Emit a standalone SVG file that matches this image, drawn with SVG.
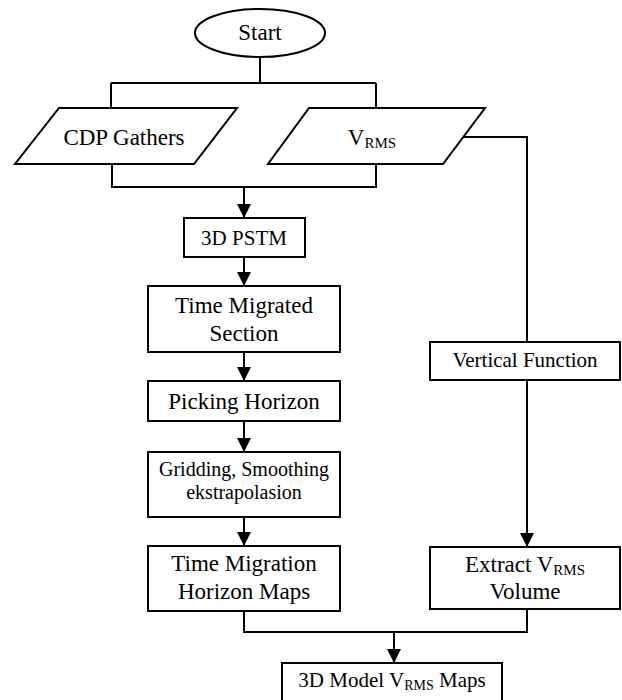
<svg xmlns="http://www.w3.org/2000/svg" width="622" height="700" viewBox="0 0 622 700">
<style>
.s{fill:#fff;stroke:#000;stroke-width:2}
.c{fill:none;stroke:#000;stroke-width:2}
text{font-family:"Liberation Serif","Times New Roman",serif;fill:#000;text-anchor:middle}
.m{font-size:23px}
.n{font-size:21px}
.g{font-size:20px}
</style>
<defs>
<marker id="arr" markerWidth="14" markerHeight="14" refX="14" refY="7" orient="auto" markerUnits="userSpaceOnUse">
<path d="M0,0 L14,7 L0,14 z" fill="#000"/>
</marker>
</defs>
<rect width="622" height="700" fill="#fff"/>
<g id="connectors">
<path class="c" d="M260,57 V83 M111,83 H376 M111,83 V108 M376,83 V108"/>
<path class="c" d="M463,137 H527 V342"/>
<path class="c" d="M112,164 V187 H376 V164"/>
<path class="c" d="M244,187 V218" marker-end="url(#arr)"/>
<path class="c" d="M244,257 V286" marker-end="url(#arr)"/>
<path class="c" d="M244,352 V381" marker-end="url(#arr)"/>
<path class="c" d="M244,421 V452" marker-end="url(#arr)"/>
<path class="c" d="M244,517 V546" marker-end="url(#arr)"/>
<path class="c" d="M527,380 V547" marker-end="url(#arr)"/>
<path class="c" d="M244,611 V632 H527 V609"/>
<path class="c" d="M394,632 V663" marker-end="url(#arr)"/>
</g>
<g id="start">
<ellipse class="s" cx="260" cy="33" rx="65" ry="24"/>
<text class="m" x="260" y="40">Start</text>
</g>
<g id="cdp">
<polygon class="s" points="59,108 237,108 194,164 15,164"/>
<text class="m" x="124" y="145">CDP Gathers</text>
</g>
<g id="vrms">
<polygon class="s" points="309,108 485,108 443,164 268,164"/>
<text class="m" x="372" y="145">V<tspan font-size="15" dy="3">RMS</tspan></text>
</g>
<g id="pstm">
<rect class="s" x="184" y="218" width="121" height="39"/>
<text class="n" x="244" y="245">3D PSTM</text>
</g>
<g id="tms">
<rect class="s" x="148" y="286" width="192" height="66"/>
<text class="m" x="244" y="313">Time Migrated</text>
<text class="m" x="244" y="341">Section</text>
</g>
<g id="picking">
<rect class="s" x="148" y="381" width="192" height="40"/>
<text class="m" x="244" y="409">Picking Horizon</text>
</g>
<g id="gridding">
<rect class="s" x="148" y="452" width="192" height="65"/>
<text class="g" x="244" y="476">Gridding, Smoothing</text>
<text class="g" x="244" y="499">ekstrapolasion</text>
</g>
<g id="tmhm">
<rect class="s" x="148" y="546" width="192" height="65"/>
<text class="m" x="244" y="571">Time Migration</text>
<text class="m" x="244" y="599">Horizon Maps</text>
</g>
<g id="vertical">
<rect class="s" x="430" y="342" width="190" height="38"/>
<text class="n" x="525" y="367">Vertical Function</text>
</g>
<g id="extract">
<rect class="s" x="430" y="547" width="190" height="62"/>
<text class="m" x="525" y="572">Extract V<tspan font-size="15" dy="3">RMS</tspan></text>
<text class="m" x="525" y="599">Volume</text>
</g>
<g id="model">
<rect class="s" x="282" y="663" width="220" height="45"/>
<text class="n" x="392" y="687">3D Model V<tspan font-size="14" dy="3">RMS</tspan><tspan dy="-3"> Maps</tspan></text>
</g>
</svg>
